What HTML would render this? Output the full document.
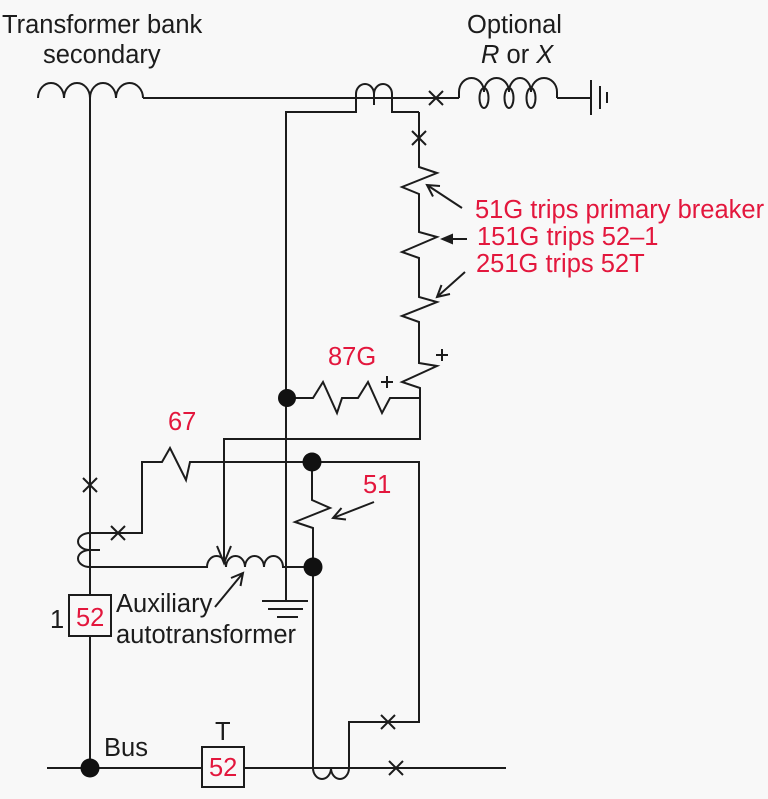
<!DOCTYPE html>
<html>
<head>
<meta charset="utf-8">
<style>
  html,body{margin:0;padding:0;background:#f8f8f8;}
  svg{display:block;}
  text{font-family:"Liberation Sans",Arial,sans-serif;font-size:25.5px;}
  .r{fill:#e3173d;}
  .k{fill:#1c1c1c;}
</style>
</head>
<body>
<svg width="768" height="799" viewBox="0 0 768 799" xmlns="http://www.w3.org/2000/svg">
  <rect x="0" y="0" width="768" height="799" fill="#f8f8f8"/>
  <g fill="none" stroke="#1c1c1c" stroke-width="2" stroke-linejoin="miter" stroke-linecap="butt">
    <!-- transformer secondary coil -->
    <path d="M38,98 A13,15 0 0 1 64,98 A13,15 0 0 1 90,98 A13,15 0 0 1 116,98 A13.5,15 0 0 1 143,98"/>
    <!-- main left vertical -->
    <path d="M90,98 V768"/>
    <!-- top horizontal -->
    <path d="M143,98 H459"/>
    <path d="M557,98 H591"/>
    <!-- optional R or X coil -->
    <path d="M459,98 V92 A12.5,14 0 0 1 484,92 A12.5,14 0 0 1 509,92 A11,14 0 0 1 531,92 A13,14 0 0 1 557,92 V98"/>
    <ellipse cx="484" cy="98" rx="4.5" ry="10"/>
    <ellipse cx="509" cy="98" rx="4.5" ry="10"/>
    <ellipse cx="531" cy="98" rx="4.5" ry="10"/>
    <!-- ground right -->
    <path d="M591,80 V115 M600,86 V109 M607,92 V103"/>
    <!-- top CT -->
    <path d="M286,601 V112 H356 V94 A9,10 0 0 1 374,94 A9,10 0 0 1 392,94 V112 H419"/>
    <path d="M374,94 V105"/>
    <!-- resistor chain -->
    <path d="M419,112 V167 L437,173 L402,187 L419,194 V232 L437,237 L402,252 L419,258 V297 L437,302 L402,316 L419,322 V363 L437,366 L402,382 L420,388 V439 H224 V562"/>
    <!-- 87G -->
    <path d="M287,398 H313 L323,382 L337,413 L342,398 H358 L368,382 L382,413 L390,398 H420"/>
    <!-- 67 path and right loop -->
    <path d="M90,533 H142 V462 H162 L170,448 L186,480 L190,462 H419 V722 H349 V768"/>
    <!-- 51 -->
    <path d="M312,462 V500 L330,508 L295,522 L313,528 V768"/>
    <!-- autotransformer line -->
    <path d="M90,567 H207 A9.5,11 0 0 1 226,567 A9.5,11 0 0 1 245,567 A9.5,11 0 0 1 264,567 A9.5,11 0 0 1 283,567 H313"/>
    <!-- left CT -->
    <path d="M90,533 A12,8.5 0 0 0 90,550 A12,8.5 0 0 0 90,567"/>
    <path d="M90,550 H100"/>
    <!-- bus -->
    <path d="M47,768 H506"/>
    <!-- bus CT -->
    <path d="M313,768 A9,11 0 0 0 331,768 A9,11 0 0 0 349,768"/>
    <!-- ground -->
    <path d="M262,601 H308 M268,609 H303 M277,617 H298"/>
    <!-- X marks -->
    <path d="M429,91 L443,105 M443,91 L429,105"/>
    <path d="M412,131 L426,145 M426,131 L412,145"/>
    <path d="M83,478 L97,492 M97,478 L83,492"/>
    <path d="M111,526 L125,540 M125,526 L111,540"/>
    <path d="M381,715 L395,729 M395,715 L381,729"/>
    <path d="M389,761 L403,775 M403,761 L389,775"/>
    <!-- arrows -->
    <path d="M462,208 L427,185 M433,196.5 L427,185 L440,186"/>
    <path d="M467,239 H448"/>
    <path d="M465,272 L437,297 M450,294 L437,297 L441.5,285"/>
    <path d="M374,502 L333,518 M346,519.5 L333,518 L341.5,508"/>
    <path d="M215,607 L243,573 M231,578 L243,573 L240.5,586"/>
    <path d="M217,546 L224,563 L231,546"/>
    <!-- boxes -->
    <rect x="69" y="595" width="42" height="41" fill="#f8f8f8"/>
    <rect x="202" y="747" width="42" height="40" fill="#f8f8f8"/>
  </g>
  <!-- filled arrowhead -->
  <polygon points="440,239 453,233.5 453,244.5" fill="#1c1c1c"/>
  <!-- dots -->
  <g fill="#111">
    <circle cx="90" cy="768" r="9.5"/>
    <circle cx="287" cy="398" r="9"/>
    <circle cx="312" cy="462" r="9.5"/>
    <circle cx="313" cy="567" r="9.5"/>
  </g>
  <!-- plus signs -->
  <g stroke="#1c1c1c" stroke-width="2">
    <path d="M381,382 H393 M387,376 V388"/>
    <path d="M436,355 H448 M442,349 V361"/>
  </g>
  <!-- texts -->
  <text class="k" x="2" y="33">Transformer bank</text>
  <text class="k" x="43" y="63">secondary</text>
  <text class="k" x="467" y="33">Optional</text>
  <text class="k" x="481" y="63"><tspan font-style="italic">R</tspan> or <tspan font-style="italic">X</tspan></text>
  <text class="r" x="475" y="218">51G trips primary breaker</text>
  <text class="r" x="477" y="245">151G trips 52–1</text>
  <text class="r" x="476" y="272">251G trips 52T</text>
  <text class="r" x="328" y="365">87G</text>
  <text class="r" x="168" y="430">67</text>
  <text class="r" x="363" y="493">51</text>
  <text class="k" x="50" y="628">1</text>
  <text class="r" x="76" y="626">52</text>
  <text class="k" x="116" y="612">Auxiliary</text>
  <text class="k" x="116" y="643">autotransformer</text>
  <text class="k" x="104" y="756">Bus</text>
  <text class="k" x="215" y="740">T</text>
  <text class="r" x="209" y="776">52</text>
</svg>
</body>
</html>
